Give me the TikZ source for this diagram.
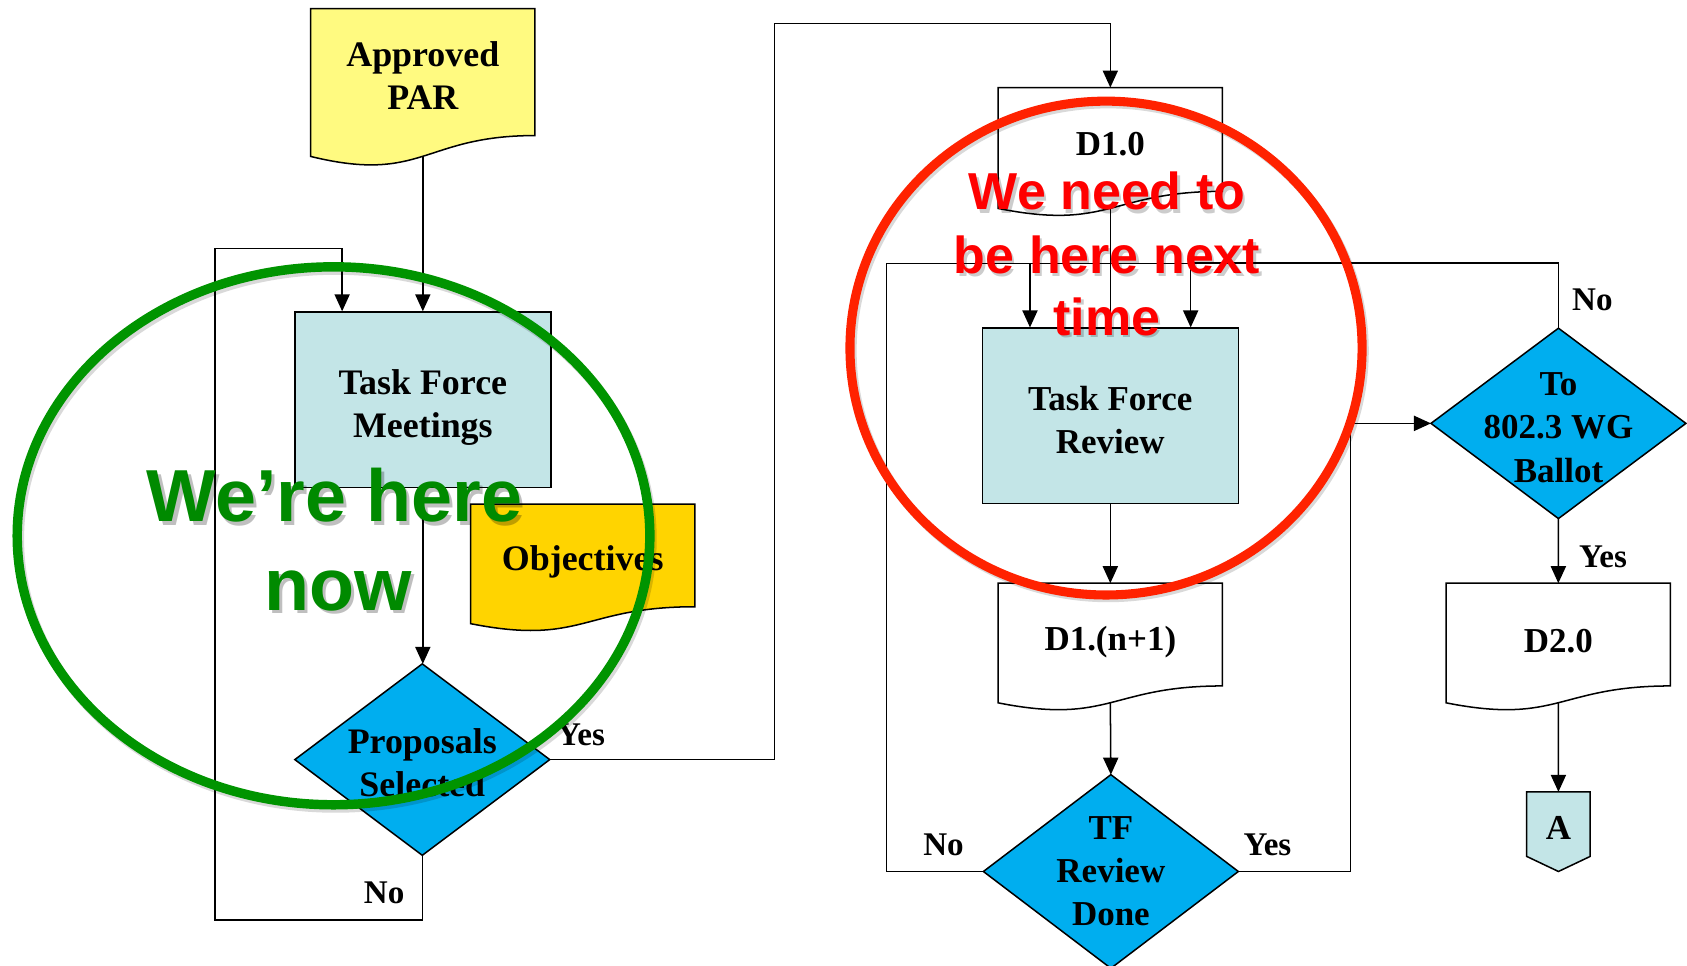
\documentclass[tikz,border=0pt]{standalone}
\usepackage{fontspec}
\setmainfont{Liberation Serif}
\newfontfamily\arialfont{Liberation Sans}
\usetikzlibrary{calc,arrows.meta}
\pgfdeclarelayer{background}
\pgfsetlayers{background,main}
\definecolor{parY}{HTML}{FFFA80}
\definecolor{objY}{HTML}{FFD400}
\definecolor{boxC}{HTML}{C3E5E7}
\definecolor{dmdB}{HTML}{00AEEF}
\definecolor{grnT}{HTML}{008A00}
\definecolor{grnE}{HTML}{009400}
\definecolor{redT}{HTML}{FF0000}
\definecolor{redE}{HTML}{FF2200}
\newcommand{\mkdoc}[2]{%
  \begin{pgfonlayer}{background}
  \draw[shapeline, fill=#2] (#1.north west) -- (#1.north east) -- (#1.south east)
    .. controls (#1.south) and ($(#1.north)!1.381!(#1.south)$) ..
    ($(#1.north west)!1.1646!(#1.south west)$) -- cycle;
  \end{pgfonlayer}}
\newcommand{\mkdmd}[1]{%
  \begin{pgfonlayer}{background}
  \draw[shapeline, fill=dmdB] (#1.north) -- (#1.east) -- (#1.south) -- (#1.west) -- cycle;
  \end{pgfonlayer}}
\begin{document}
\begin{tikzpicture}[x=0.02cm, y=-0.02cm,
  shapeline/.style={draw=black, line width=0.8pt},
  conn/.style={line width=0.8pt},
  arr/.style={line width=0.8pt, -{Triangle[length=9pt,width=8pt]}},
  geom/.style={inner sep=0pt, outer sep=0pt, draw=none},
  txtL/.style={font=\fontsize{19}{22.5}\selectfont\bfseries, align=center, inner sep=0pt},
  txtR/.style={font=\fontsize{18.5}{22.8}\selectfont\bfseries, align=center, inner sep=0pt},
  lbl/.style={font=\fontsize{17.5}{21}\selectfont\bfseries, inner sep=0pt},
  boxstyle/.style={draw=black, line width=0.8pt, fill=boxC, inner sep=0pt},
  docw/.style={minimum width=4.17cm},
  grnfont/.style={font=\arialfont\bfseries\fontsize{39}{46}\selectfont, inner sep=0pt, anchor=base},
  redfont/.style={font=\arialfont\bfseries\fontsize{27.5}{33}\selectfont, inner sep=0pt, anchor=base},
]
\useasboundingbox (0,0) rectangle (1568,897);
\begin{pgfonlayer}{background}
\fill[white] (0,0) rectangle (1568,897);
\end{pgfonlayer}

% ---------- left part ----------
\node[geom, docw, minimum height=2.36cm] (par) at (393,67) {};
\mkdoc{par}{parY}
\node[txtL] (par-t) at (393,70) {Approved\\PAR};
\node[boxstyle, minimum width=4.76cm, minimum height=3.26cm] (tfm) at (393,371.5) {};
\node[txtL] (tfm-t) at (393,378.5) {Task Force\\Meetings};
\node[geom, minimum width=4.74cm, minimum height=3.56cm] (prop) at (392.5,706) {};
\mkdmd{prop}
\node[txtL] (prop-t) at (392.5,709) {Proposals\\Selected};
\node[geom, docw, minimum height=1.91cm] (obj) at (541.6,516.2) {};
\mkdoc{obj}{objY}
\node[txtL] (obj-t) at (541.6,522) {Objectives};

% ---------- right part ----------
\node[geom, docw, minimum height=1.93cm] (d10) at (1032,129.6) {};
\mkdoc{d10}{white}
\node[txtR] (d10-t) at (1032,134) {D1.0};
\node[boxstyle, minimum width=4.76cm, minimum height=3.26cm] (tfr) at (1032,386.5) {};
\node[txtR] (tfr-t) at (1032,390.5) {Task Force\\Review};
\node[geom, docw, minimum height=1.91cm] (d1n) at (1032,589.8) {};
\mkdoc{d1n}{white}
\node[txtR] (d1n-t) at (1032,597) {D1.(n+1)};
\node[geom, minimum width=4.74cm, minimum height=3.6cm] (tfd) at (1032.5,810) {};
\mkdmd{tfd}
\node[txtR] (tfd-t) at (1032.5,810) {TF\\Review\\Done};
\node[geom, minimum width=4.74cm, minimum height=3.54cm] (ball) at (1448.5,393.5) {};
\mkdmd{ball}
\node[txtR] (ball-t) at (1448.5,397.5) {To\\802.3 WG\\Ballot};
\node[geom, docw, minimum height=1.91cm] (d2) at (1448.4,589.8) {};
\mkdoc{d2}{white}
\node[txtR] (d2-t) at (1448.4,596) {D2.0};
\node[geom, minimum width=1.18cm, minimum height=1.2cm] (offa) at (1448.5,766) {};
\begin{pgfonlayer}{background}
\draw[shapeline, fill=boxC] (offa.north west) -- (offa.north east) -- (offa.south east)
  -- ($(offa.south)+(0,14)$) -- (offa.south west) -- cycle;
\end{pgfonlayer}
\node[txtR] (offa-t) at (1448.5,770) {A};

% ---------- coordinates ----------
\coordinate (parb) at ($(par.north)!1.163!(par.south)$);
\coordinate (d10b) at ($(d10.north)!1.163!(d10.south)$);
\coordinate (d1nb) at ($(d1n.north)!1.163!(d1n.south)$);
\coordinate (d2b) at ($(d2.north)!1.163!(d2.south)$);
\coordinate (lp1) at (200,855);
\coordinate (lp2) at (318,231);
\coordinate (yc) at (720,22);
\coordinate (busL) at (824,245);
\coordinate (busR) at (1448.5,245);
\coordinate (rc) at (1255,393.5);

% ---------- connectors ----------
\draw[arr] (parb) -- (tfm.north);
\draw[arr] (tfm.south) -- (tfm.south |- prop.north);
\draw[arr] (prop.south) |- (lp1) |- (lp2) -- (lp2 |- tfm.north);
\draw[arr] (prop.east) -| (yc) -| (d10.north);
\draw[conn] (d10b) -- (tfr.north);
\draw[conn] (busL) -- (busR);
\draw[arr] (tfd.west) -| (busL) -| ($(tfr.north west)+(45,0)$);
\draw[arr] (ball.north) |- ($(tfr.north east)+(-45,-60)$) -- ($(tfr.north east)+(-45,0)$);
\draw[arr] (tfr.south) -- (d1n.north);
\draw[arr] (d1nb) -- (tfd.north);
\draw[arr] (tfd.east) -| (rc) -- (ball.west);
\draw[arr] (ball.south) -- (d2.north);
\draw[arr] (d2b) -- (offa.north);

% ---------- labels ----------
\node[lbl] (lyes1) at (540,683) {Yes};
\node[lbl] (lno1) at (357,830) {No};
\node[lbl] (lno2) at (1480,279) {No};
\node[lbl] (lyes2) at (1490,518) {Yes};
\node[lbl] (lno3) at (877,785) {No};
\node[lbl] (lyes3) at (1178,785) {Yes};

% ---------- highlights ----------
\draw[black, opacity=0.15, line width=5pt] (312,501) ellipse [x radius=294, y radius=250];
\draw[grnE, line width=5pt] (310,498) ellipse [x radius=294, y radius=250];
\draw[black, opacity=0.15, line width=4.8pt] (1030,326) ellipse [x radius=238, y radius=229.5];
\draw[redE, line width=4.8pt] (1028,323.5) ellipse [x radius=238, y radius=229.5];

\node[grnfont, text=black, opacity=0.25] at (314,488) {We’re here};
\node[grnfont, text=black, opacity=0.25] at (317,570) {now};
\node[grnfont, text=grnT] (g1) at (311,485) {We’re here};
\node[grnfont, text=grnT] (g2) at (314,567) {now};

\node[redfont, text=black, opacity=0.2] at (1031,198) {We need to};
\node[redfont, text=black, opacity=0.2] at (1031,257) {be here next};
\node[redfont, text=black, opacity=0.2] at (1031,314) {time};
\node[redfont, text=redT] (r1) at (1029,195) {We need to};
\node[redfont, text=redT] (r2) at (1029,254) {be here next};
\node[redfont, text=redT] (r3) at (1029,311.5) {time};
\end{tikzpicture}
\end{document}
